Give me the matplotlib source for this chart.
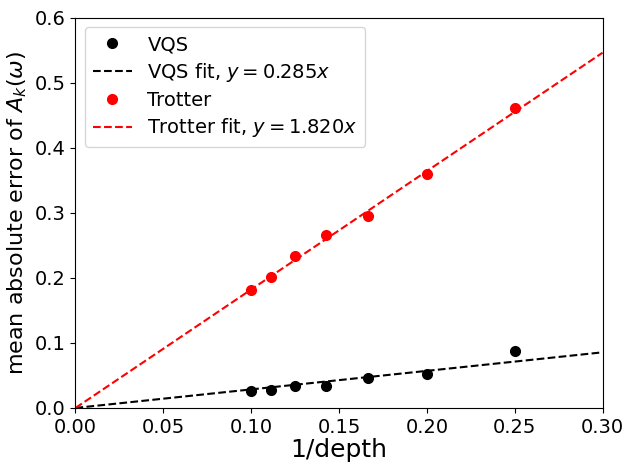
import numpy as np
import matplotlib
matplotlib.use("Agg")
import matplotlib.pyplot as plt

depths = np.array([10, 9, 8, 7, 6, 5, 4])
vqs_err = [0.026, 0.028, 0.033, 0.034, 0.046, 0.052, 0.087]
trotter_err = [0.181, 0.202, 0.233, 0.266, 0.295, 0.360, 0.461]
vqs_slope = 0.285
trotter_slope = 1.820

inv_depth = 1.0 / depths
x_fit = np.linspace(0, 0.3, 100)

fig, ax = plt.subplots(figsize=(6.29, 4.62), dpi=100)

ax.plot(inv_depth, vqs_err, 'o', color='black', markersize=7, label='VQS')
ax.plot(x_fit, vqs_slope * x_fit, '--', color='black', lw=1.5,
        label=r'VQS fit, $y = %.3f x$' % vqs_slope)
ax.plot(inv_depth, trotter_err, 'o', color='red', markersize=7, label='Trotter')
ax.plot(x_fit, trotter_slope * x_fit, '--', color='red', lw=1.5,
        label=r'Trotter fit, $y = %.3f x$' % trotter_slope)

ax.set_xlim(0, 0.3)
ax.set_ylim(0, 0.6)
ax.set_xlabel('1/depth', fontsize=18, labelpad=1)
ax.set_ylabel(r'mean absolute error of $A_k(\omega)$', fontsize=16)
ax.tick_params(labelsize=14)
ax.legend(fontsize=14, loc='upper left', labelspacing=0.35)

fig.subplots_adjust(left=0.12, right=0.958, top=0.962, bottom=0.117)
fig.savefig('out.png')
